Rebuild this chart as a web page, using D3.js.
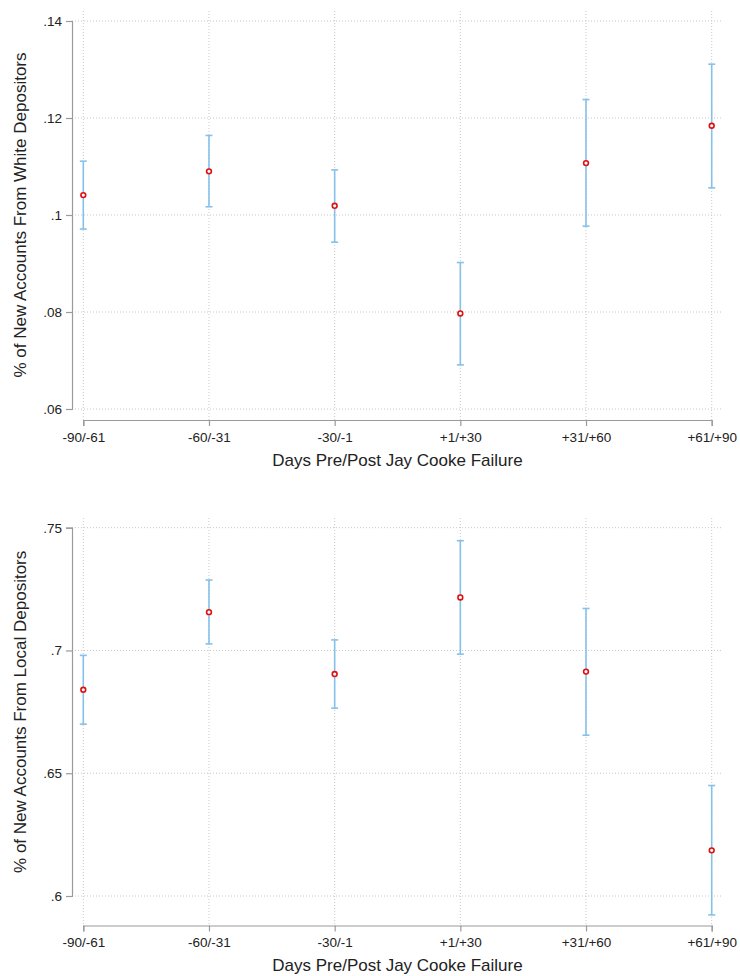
<!DOCTYPE html>
<html>
<head>
<meta charset="utf-8">
<script src="https://cdn.jsdelivr.net/npm/d3@7"></script>
<style>
  body { margin: 0; background: #fff; }
  svg { display: block; font-family: "Liberation Sans", Arial, Helvetica, sans-serif; }
  .grid line { stroke: #c8c8c8; stroke-width: 1; stroke-dasharray: 1,2; }
  .axis path, .axis line { stroke: #9a9a9a; stroke-width: 1.2; }
  .axis text { fill: #222; font-size: 13.5px; }
</style>
</head>
<body>
<script>
// categories on the x axis
var categories = ["-90/-61", "-60/-31", "-30/-1", "+1/+30", "+31/+60", "+61/+90"];

// top panel: share from white depositors
var whiteMean = [0.1041, 0.1090, 0.1019, 0.0797, 0.1107, 0.1184];
var whiteLo   = [0.0971, 0.1017, 0.0944, 0.0691, 0.0977, 0.1056];
var whiteHi   = [0.1111, 0.1164, 0.1093, 0.0902, 0.1238, 0.1311];
var whiteTicks = [0.06, 0.08, 0.10, 0.12, 0.14];
var whiteTickLabels = [".06", ".08", ".1", ".12", ".14"];

// bottom panel: share from local depositors
var localMean = [0.6840, 0.7156, 0.6904, 0.7216, 0.6914, 0.6186];
var localLo   = [0.6700, 0.7027, 0.6765, 0.6985, 0.6655, 0.5923];
var localHi   = [0.6980, 0.7287, 0.7043, 0.7447, 0.7171, 0.6450];
var localTicks = [0.60, 0.65, 0.70, 0.75];
var localTickLabels = [".6", ".65", ".7", ".75"];

var xTitle = "Days Pre/Post Jay Cooke Failure";

var width = 740, height = 976;
var svg = d3.select("body").append("svg")
    .attr("width", width)
    .attr("height", height);

var x = d3.scalePoint()
    .domain(categories)
    .range([83.3, 711.7]);

function drawPanel(opts) {
    var y = d3.scaleLinear()
        .domain(opts.domain)
        .range(opts.range);

    var g = svg.append("g");

    // dotted grid
    var grid = g.append("g").attr("class", "grid");
    grid.selectAll(".hg")
      .data(opts.ticks)
      .enter().append("line")
        .attr("x1", 72).attr("x2", 723)
        .attr("y1", function(d) { return y(d); })
        .attr("y2", function(d) { return y(d); });
    grid.selectAll(".vg")
      .data(categories)
      .enter().append("line")
        .attr("x1", function(d) { return x(d); })
        .attr("x2", function(d) { return x(d); })
        .attr("y1", opts.plotTop)
        .attr("y2", opts.xAxisY);

    // y axis
    g.append("g")
        .attr("class", "axis")
        .attr("transform", "translate(72,0)")
        .call(d3.axisLeft(y)
            .tickValues(opts.ticks)
            .tickFormat(function(d, i) { return opts.tickLabels[i]; })
            .tickSizeOuter(0)
            .tickSize(6)
            .tickPadding(4));

    // x axis
    g.append("g")
        .attr("class", "axis")
        .attr("transform", "translate(0," + opts.xAxisY + ")")
        .call(d3.axisBottom(x)
            .tickSizeOuter(0)
            .tickSize(6)
            .tickPadding(6));

    // error bars
    var cap = 3.5;
    var bars = g.append("g")
        .attr("stroke", "#86c1ea")
        .attr("stroke-width", 1.6)
        .attr("fill", "none");
    categories.forEach(function(c, i) {
        var cx = x(c);
        bars.append("line")
            .attr("x1", cx).attr("x2", cx)
            .attr("y1", y(opts.lo[i])).attr("y2", y(opts.hi[i]));
        bars.append("line")
            .attr("x1", cx - cap).attr("x2", cx + cap)
            .attr("y1", y(opts.lo[i])).attr("y2", y(opts.lo[i]));
        bars.append("line")
            .attr("x1", cx - cap).attr("x2", cx + cap)
            .attr("y1", y(opts.hi[i])).attr("y2", y(opts.hi[i]));
    });

    // point estimates
    g.append("g").selectAll("circle")
      .data(opts.mean)
      .enter().append("circle")
        .attr("cx", function(d, i) { return x(categories[i]); })
        .attr("cy", function(d) { return y(d); })
        .attr("r", 2.4)
        .attr("fill", "#fff")
        .attr("stroke", "#e01010")
        .attr("stroke-width", 1.6);

    // axis titles
    g.append("text")
        .attr("x", (x.range()[0] + x.range()[1]) / 2)
        .attr("y", opts.xTitleY)
        .attr("text-anchor", "middle")
        .attr("font-size", 17)
        .attr("fill", "#222")
        .text(xTitle);

    var yMid = (opts.range[0] + opts.range[1]) / 2;
    g.append("text")
        .attr("transform", "translate(26," + yMid + ") rotate(-90)")
        .attr("text-anchor", "middle")
        .attr("font-size", 17)
        .attr("fill", "#222")
        .text(opts.yTitle);
}

drawPanel({
    domain: [0.06, 0.14], range: [409, 21],
    ticks: whiteTicks, tickLabels: whiteTickLabels,
    mean: whiteMean, lo: whiteLo, hi: whiteHi,
    plotTop: 11, xAxisY: 420, xTitleY: 466,
    yTitle: "% of New Accounts From White Depositors"
});

drawPanel({
    domain: [0.60, 0.75], range: [896, 527.7],
    ticks: localTicks, tickLabels: localTickLabels,
    mean: localMean, lo: localLo, hi: localHi,
    plotTop: 518, xAxisY: 925.5, xTitleY: 971,
    yTitle: "% of New Accounts From Local Depositors"
});
</script>
</body>
</html>
